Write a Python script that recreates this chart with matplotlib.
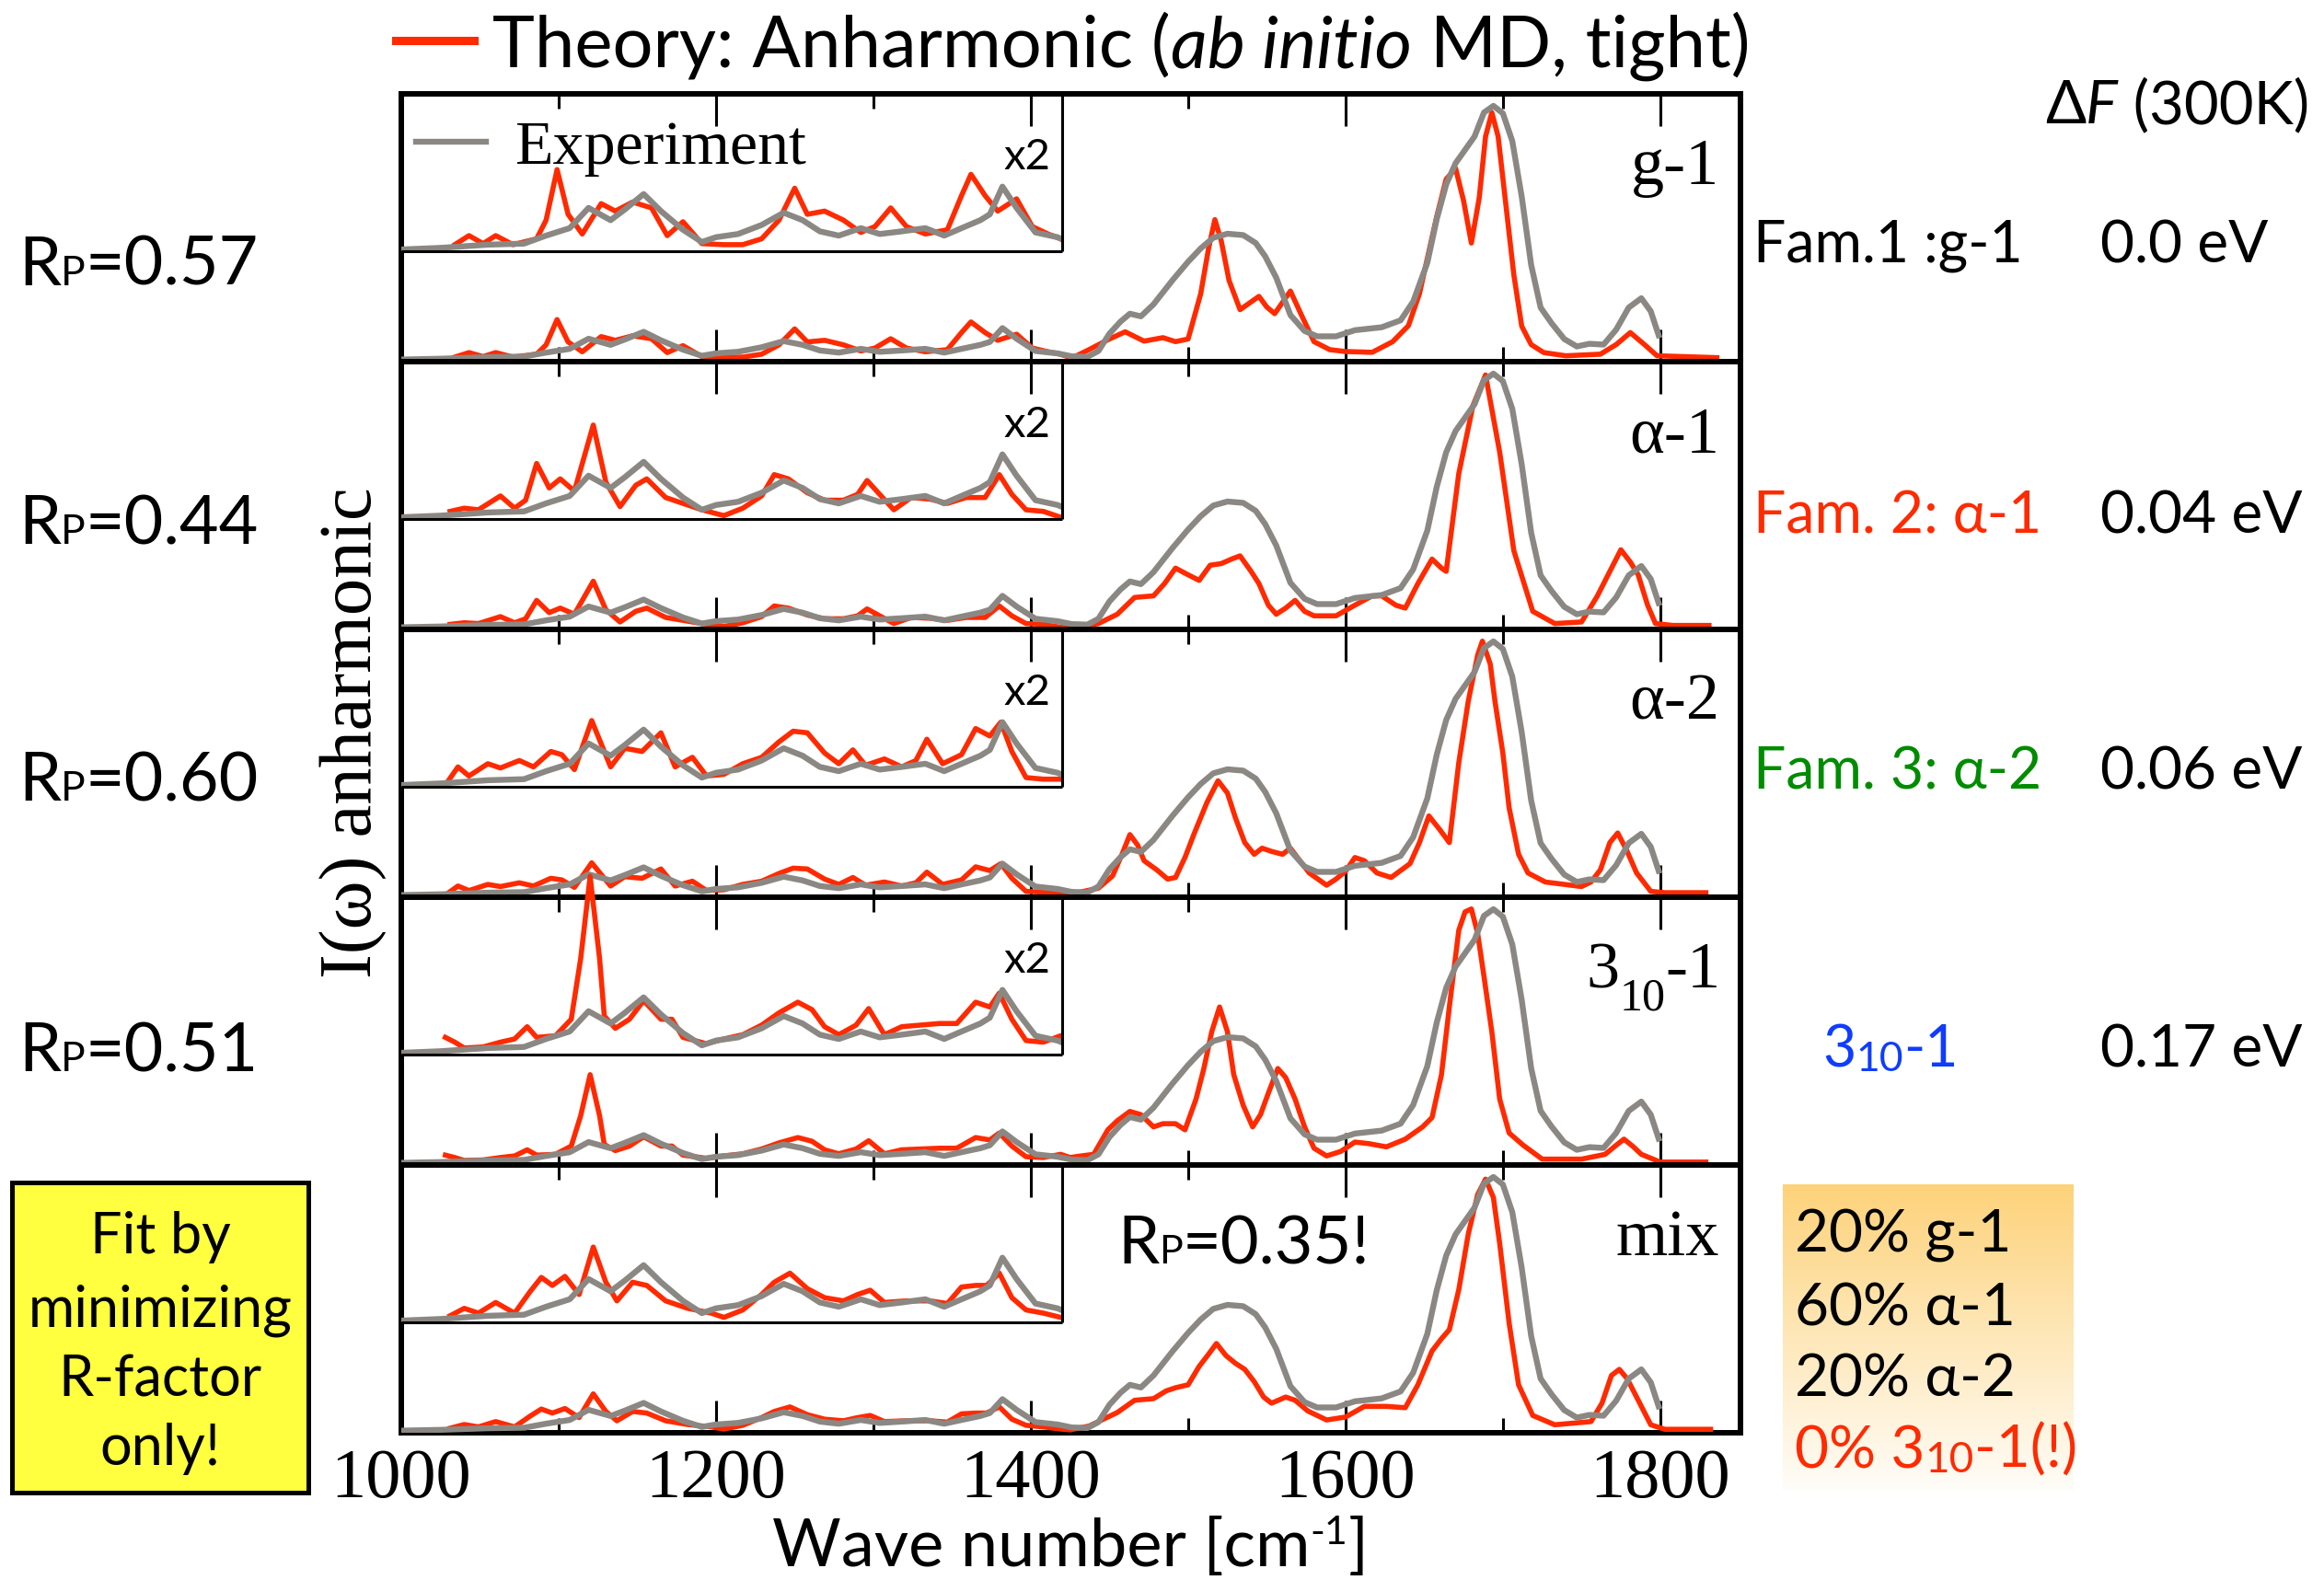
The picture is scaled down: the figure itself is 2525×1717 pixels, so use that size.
import numpy as np
import matplotlib
matplotlib.use("Agg")
import matplotlib.pyplot as plt
from matplotlib.transforms import Affine2D
from matplotlib.patches import Rectangle
from matplotlib.lines import Line2D
from matplotlib.ticker import FixedLocator
from matplotlib.colors import LinearSegmentedColormap

# ---------------------------------------------------------------- data
# Experimental IR spectrum (same in every panel), normalised intensity
exp_wn = [1000, 1025, 1055, 1078, 1092, 1107, 1119, 1133, 1142, 1154,
          1165, 1179, 1191, 1200, 1214, 1229, 1243, 1255, 1266, 1278,
          1292, 1304, 1318, 1333, 1345, 1356, 1368, 1374, 1382, 1391,
          1403, 1417, 1426, 1436, 1443, 1450, 1457, 1463, 1470, 1478,
          1490, 1500, 1508, 1516, 1525, 1535, 1543, 1549, 1556, 1565,
          1574, 1582, 1594, 1606, 1623, 1635, 1643, 1652, 1658, 1664,
          1670, 1676, 1682, 1688, 1694, 1700, 1706, 1712, 1718, 1724,
          1731, 1739, 1747, 1755, 1764, 1772, 1780, 1788, 1794, 1799]
exp_int = [0.003, 0.006, 0.012, 0.014, 0.029, 0.043, 0.081, 0.058, 0.078, 0.107,
           0.075, 0.040, 0.017, 0.026, 0.032, 0.049, 0.072, 0.058, 0.037, 0.029,
           0.043, 0.032, 0.037, 0.043, 0.029, 0.043, 0.058, 0.069, 0.121, 0.081,
           0.035, 0.026, 0.015, 0.013, 0.035, 0.10, 0.145, 0.175, 0.165, 0.21,
           0.30, 0.37, 0.42, 0.46, 0.475, 0.47, 0.44, 0.39, 0.31, 0.17,
           0.11, 0.09, 0.09, 0.113, 0.124, 0.15, 0.22, 0.366, 0.53, 0.66,
           0.74, 0.79, 0.84, 0.93, 0.955, 0.927, 0.823, 0.614, 0.358, 0.198,
           0.139, 0.08, 0.052, 0.062, 0.059, 0.115, 0.198, 0.233, 0.184, 0.094]

# Anharmonic (ab initio MD) spectra of the individual conformers and the mix
g1_wn = [1034, 1043, 1052, 1060, 1071, 1086, 1092, 1099, 1106, 1115,
         1127, 1136, 1147, 1159, 1169, 1179, 1191, 1205, 1217, 1229,
         1240, 1250, 1258, 1269, 1281, 1292, 1301, 1311, 1321, 1333,
         1347, 1356, 1362, 1371, 1379, 1391, 1401, 1411, 1419, 1426,
         1437, 1450, 1460, 1472, 1484, 1492, 1500, 1508, 1513, 1517,
         1521, 1526, 1533, 1545, 1550, 1555, 1565, 1572, 1580, 1590,
         1600, 1617, 1630, 1640, 1647, 1658, 1664, 1670, 1675, 1680,
         1685, 1689, 1693, 1697, 1702, 1707, 1712, 1718, 1726, 1740,
         1762, 1772, 1781, 1790, 1798, 1836]
g1_int = [0.012, 0.029, 0.014, 0.029, 0.012, 0.023, 0.058, 0.153, 0.069, 0.032,
          0.089, 0.075, 0.092, 0.081, 0.029, 0.055, 0.014, 0.012, 0.012, 0.023,
          0.058, 0.118, 0.069, 0.075, 0.058, 0.035, 0.046, 0.081, 0.046, 0.032,
          0.040, 0.104, 0.144, 0.104, 0.075, 0.098, 0.046, 0.032, 0.023, 0.008,
          0.04, 0.08, 0.107, 0.072, 0.085, 0.07, 0.08, 0.25, 0.42, 0.528,
          0.45, 0.30, 0.19, 0.24, 0.20, 0.175, 0.26, 0.17, 0.07, 0.04,
          0.033, 0.03, 0.07, 0.13, 0.25, 0.54, 0.68, 0.72, 0.60, 0.44,
          0.61, 0.84, 0.93, 0.84, 0.58, 0.32, 0.128, 0.059, 0.029, 0.017,
          0.023, 0.059, 0.104, 0.059, 0.017, 0.01]

a1_wn = [1031, 1040, 1049, 1063, 1072, 1079, 1086, 1094, 1101, 1110,
         1122, 1130, 1139, 1149, 1156, 1168, 1179, 1191, 1205, 1217,
         1229, 1237, 1246, 1258, 1269, 1281, 1290, 1296, 1304, 1313,
         1324, 1336, 1347, 1359, 1371, 1380, 1388, 1397, 1408, 1419,
         1430, 1443, 1455, 1466, 1478, 1485, 1492, 1500, 1507, 1514,
         1521, 1528, 1533, 1540, 1545, 1551, 1556, 1562, 1568, 1574,
         1580, 1594, 1606, 1617, 1623, 1632, 1638, 1646, 1655, 1661,
         1664, 1672, 1681, 1689, 1698, 1707, 1719, 1733, 1750, 1760,
         1768, 1775, 1781, 1786, 1792, 1797, 1808, 1831]
a1_int = [0.014, 0.020, 0.017, 0.043, 0.020, 0.035, 0.104, 0.058, 0.075, 0.052,
          0.176, 0.069, 0.023, 0.063, 0.075, 0.040, 0.029, 0.017, 0.006, 0.020,
          0.043, 0.083, 0.075, 0.049, 0.035, 0.035, 0.046, 0.072, 0.046, 0.017,
          0.040, 0.037, 0.029, 0.040, 0.040, 0.083, 0.046, 0.017, 0.014, 0.003,
          0.003, 0.017, 0.052, 0.115, 0.121, 0.167, 0.225, 0.2, 0.179, 0.236,
          0.242, 0.26, 0.271, 0.213, 0.167, 0.086, 0.052, 0.075, 0.104, 0.063,
          0.046, 0.046, 0.086, 0.121, 0.121, 0.086, 0.075, 0.167, 0.259, 0.225,
          0.213, 0.58, 0.835, 0.95, 0.66, 0.29, 0.063, 0.017, 0.023, 0.12,
          0.213, 0.294, 0.248, 0.2, 0.086, 0.017, 0.01, 0.01]

a2_wn = [1028, 1036, 1043, 1055, 1063, 1075, 1084, 1095, 1102, 1110,
         1121, 1133, 1142, 1153, 1165, 1174, 1185, 1194, 1205, 1217,
         1229, 1240, 1249, 1258, 1269, 1278, 1287, 1295, 1307, 1318,
         1327, 1334, 1344, 1356, 1365, 1374, 1381, 1388, 1397, 1408,
         1419, 1425, 1443, 1452, 1458, 1463, 1468, 1472, 1480, 1487,
         1492, 1498, 1504, 1512, 1519, 1525, 1530, 1536, 1542, 1547,
         1553, 1560, 1565, 1571, 1577, 1588, 1594, 1600, 1606, 1612,
         1620, 1629, 1641, 1647, 1653, 1660, 1666, 1672, 1678, 1684,
         1687, 1692, 1695, 1700, 1704, 1710, 1716, 1727, 1750, 1756,
         1762, 1768, 1773, 1779, 1785, 1794, 1803, 1829]
a2_int = [0.003, 0.037, 0.020, 0.043, 0.035, 0.049, 0.037, 0.066, 0.060, 0.032,
          0.124, 0.037, 0.072, 0.066, 0.101, 0.037, 0.055, 0.020, 0.023, 0.043,
          0.055, 0.084, 0.104, 0.101, 0.063, 0.043, 0.069, 0.040, 0.052, 0.037,
          0.049, 0.089, 0.043, 0.060, 0.109, 0.095, 0.121, 0.066, 0.017, 0.014,
          0.014, 0.006, 0.029, 0.075, 0.156, 0.23, 0.19, 0.132, 0.098, 0.063,
          0.069, 0.144, 0.236, 0.351, 0.432, 0.386, 0.294, 0.2, 0.156, 0.179,
          0.167, 0.156, 0.179, 0.132, 0.086, 0.04, 0.063, 0.092, 0.144, 0.132,
          0.086, 0.069, 0.121, 0.2, 0.3, 0.248, 0.2, 0.5, 0.73, 0.904,
          0.956, 0.87, 0.73, 0.536, 0.33, 0.156, 0.086, 0.052, 0.035, 0.052,
          0.098, 0.2, 0.236, 0.167, 0.086, 0.017, 0.012, 0.012]

h310_wn = [1028, 1034, 1040, 1052, 1063, 1072, 1080, 1086, 1098, 1108,
           1114, 1120, 1126, 1129, 1136, 1145, 1154, 1165, 1172, 1179,
           1194, 1205, 1217, 1229, 1240, 1252, 1261, 1269, 1278, 1289,
           1297, 1307, 1318, 1330, 1342, 1353, 1365, 1374, 1380, 1388,
           1397, 1408, 1419, 1425, 1432, 1440, 1449, 1455, 1463, 1470,
           1478, 1484, 1492, 1498, 1505, 1510, 1515, 1520, 1525, 1529,
           1535, 1541, 1546, 1551, 1557, 1562, 1568, 1574, 1580, 1588,
           1597, 1606, 1615, 1626, 1638, 1649, 1655, 1661, 1666, 1672,
           1676, 1680, 1684, 1688, 1693, 1698, 1704, 1713, 1725, 1750,
           1765, 1772, 1777, 1783, 1788, 1800, 1829]
h310_int = [0.032, 0.023, 0.012, 0.014, 0.023, 0.029, 0.052, 0.032, 0.035, 0.066,
            0.18, 0.334, 0.18, 0.072, 0.049, 0.066, 0.101, 0.066, 0.066, 0.032,
            0.020, 0.029, 0.037, 0.055, 0.078, 0.098, 0.084, 0.052, 0.037, 0.055,
            0.086, 0.037, 0.052, 0.055, 0.058, 0.058, 0.098, 0.089, 0.115, 0.066,
            0.026, 0.023, 0.035, 0.023, 0.029, 0.035, 0.127, 0.161, 0.196, 0.184,
            0.138, 0.15, 0.15, 0.127, 0.242, 0.357, 0.495, 0.588, 0.495, 0.334,
            0.219, 0.138, 0.184, 0.265, 0.357, 0.323, 0.242, 0.138, 0.058, 0.029,
            0.046, 0.081, 0.075, 0.063, 0.092, 0.138, 0.173, 0.334, 0.588, 0.876,
            0.945, 0.956, 0.864, 0.703, 0.495, 0.242, 0.115, 0.069, 0.017, 0.017,
            0.035, 0.069, 0.092, 0.063, 0.035, 0.006, 0.006]

mix_wn = [1031, 1040, 1049, 1060, 1072, 1082, 1089, 1096, 1104, 1113,
          1122, 1130, 1137, 1147, 1156, 1168, 1182, 1197, 1205, 1217,
          1229, 1237, 1247, 1258, 1269, 1281, 1290, 1298, 1307, 1321,
          1336, 1347, 1356, 1365, 1372, 1380, 1388, 1397, 1408, 1419,
          1425, 1437, 1455, 1466, 1478, 1486, 1492, 1500, 1507, 1513,
          1518, 1524, 1530, 1536, 1542, 1548, 1553, 1562, 1568, 1576,
          1588, 1600, 1612, 1626, 1638, 1646, 1655, 1661, 1666, 1672,
          1678, 1684, 1689, 1694, 1698, 1704, 1710, 1719, 1733, 1756,
          1763, 1769, 1774, 1779, 1785, 1794, 1803, 1832]
mix_int = [0.012, 0.026, 0.017, 0.037, 0.017, 0.058, 0.084, 0.069, 0.086, 0.052,
           0.141, 0.075, 0.040, 0.075, 0.069, 0.040, 0.026, 0.017, 0.009, 0.023,
           0.052, 0.075, 0.092, 0.063, 0.046, 0.040, 0.052, 0.060, 0.037, 0.040,
           0.040, 0.035, 0.066, 0.069, 0.069, 0.092, 0.046, 0.023, 0.017, 0.009,
           0.006, 0.02, 0.071, 0.117, 0.123, 0.152, 0.164, 0.175, 0.244, 0.29,
           0.33, 0.285, 0.256, 0.233, 0.187, 0.129, 0.106, 0.129, 0.117, 0.077,
           0.043, 0.054, 0.094, 0.094, 0.089, 0.175, 0.302, 0.348, 0.382, 0.532,
           0.74, 0.889, 0.947, 0.878, 0.705, 0.406, 0.175, 0.06, 0.025, 0.037,
           0.106, 0.21, 0.233, 0.198, 0.129, 0.025, 0.008, 0.008]

panel_labels = ["g-1", "α-1", "α-2", "3_10-1", "mix"]
rp_values = ["0.57", "0.44", "0.60", "0.51"]
rp_mix = "0.35"
family_labels = ["Fam.1 :g-1", "Fam. 2: α-1", "Fam. 3: α-2"]
free_energy = ["0.0 eV", "0.04 eV", "0.06 eV", "0.17 eV"]
mix_lines = ["20% g-1", "60% α-1", "20% α-2"]
note_lines = ["Fit by", "minimizing", "R-factor", "only!"]
tick_values = [1000, 1200, 1400, 1600, 1800]
minor_values = [1100, 1300, 1500, 1700]

# ---------------------------------------------------------------- style
RED = "#ff2a00"
GRAY = "#8b8884"
GREEN = "#008c00"
BLUE = "#0f3cff"
SERIF = ["Liberation Serif", "DejaVu Serif"]
SANS = ["Lato", "DejaVu Sans"]

W, H = 2525, 1717
fig = plt.figure(figsize=(W / 100, H / 100), dpi=100)
renderer = fig.canvas.get_renderer()

AX_L, AX_R = 436, 1891          # frame, pixels
TOP = 102                       # top of first panel, pixels
PH = 291                        # panel height, pixels
XMIN, XMAX = 1000, 1851
YMIN, YMAX = -0.005, 1.0
INSET_BASE = 0.41               # baseline of the x2 zoom box (data units)
INSET_END = 1420                # right edge of the x2 zoom box


def fx(px):
    return px / W


def fy(py):
    return 1 - py / H


def runs_text(x, y, runs, ha="left", family=SANS, color="black"):
    """Place text runs side by side on one baseline; x, y in pixels from top-left."""
    items, total = [], 0.0
    for run in runs:
        s, size = run[0], run[1]
        dy = run[2] if len(run) > 2 else 0
        kw = dict(run[3]) if len(run) > 3 else {}
        kw.setdefault("color", color)
        kw.setdefault("family", family)
        t = fig.text(0, 0, s, fontsize=size, va="baseline", ha="left", **kw)
        w = t.get_window_extent(renderer).width
        items.append((t, w, dy))
        total += w
    x0 = x - {"left": 0, "center": total / 2, "right": total}[ha]
    for t, w, dy in items:
        t.set_position((fx(x0), fy(y + dy)))
        x0 += w


series = [(g1_wn, g1_int), (a1_wn, a1_int), (a2_wn, a2_int),
          (h310_wn, h310_int), (mix_wn, mix_int)]

axes = []
for i, (wn, inten) in enumerate(series):
    ax = fig.add_axes([fx(AX_L), fy(TOP + PH * (i + 1)), fx(AX_R - AX_L), PH / H])
    axes.append(ax)
    ax.set_xlim(XMIN, XMAX)
    ax.set_ylim(YMIN, YMAX)

    # full spectra
    ax.plot(wn, inten, color=RED, lw=4.0, solid_joinstyle="round", zorder=3)
    exp_line, = ax.plot(exp_wn, exp_int, color=GRAY, lw=4.6,
                        solid_joinstyle="round", zorder=4)

    # x2 magnified view of the 1000-1420 region
    zoom_tr = Affine2D().scale(1, 2).translate(0, INSET_BASE) + ax.transData
    clip = Rectangle((XMIN, INSET_BASE), INSET_END - XMIN, 2.0,
                     transform=ax.transData)
    for xs, ys, c, lw, z in [(wn, inten, RED, 4.0, 3), (exp_wn, exp_int, GRAY, 4.6, 4)]:
        ln, = ax.plot(xs, ys, color=c, lw=lw, solid_joinstyle="round",
                      transform=zoom_tr, zorder=z)
        ln.set_clip_path(clip)
    ax.hlines(INSET_BASE, XMIN, INSET_END, color="black", lw=2.2, zorder=5)
    ax.vlines(INSET_END, INSET_BASE, YMAX, color="black", lw=2.2, zorder=5)

    # frame and ticks
    for sp in ax.spines.values():
        sp.set_linewidth(4.3)
    ax.set_yticks([])
    ax.xaxis.set_major_locator(FixedLocator(tick_values))
    ax.xaxis.set_minor_locator(FixedLocator(minor_values))
    ax.tick_params(axis="x", which="both", direction="in", top=True, bottom=True,
                   width=2.2, color="black")
    ax.tick_params(axis="x", which="major", length=25, pad=12)
    ax.tick_params(axis="x", which="minor", length=11.5)
    if i < len(series) - 1:
        ax.tick_params(axis="x", labelbottom=False)
    else:
        ax.set_xticklabels([str(v) for v in tick_values])
        for lab in ax.get_xticklabels():
            lab.set_fontfamily(SERIF)
            lab.set_fontsize(55)

    # panel name
    top_px = TOP + PH * i
    name = panel_labels[i]
    if name == "3_10-1":
        runs_text(1870, top_px + 98, [("3", 52), ("10", 36, 24), ("-1", 52)],
                  ha="right", family=SERIF)
    else:
        fig.text(fx(1868), fy(top_px + 98), name, fontsize=52, family=SERIF,
                 ha="right", va="baseline")
    if name != "mix":
        fig.text(fx(1141), fy(top_px + 82), "x2", fontsize=34, family=SANS,
                 ha="right", va="baseline")

    if i == 0:
        ax.legend([exp_line], ["Experiment"], loc="upper left",
                  bbox_to_anchor=((452 - AX_L) / (AX_R - AX_L), (PH - 28) / PH),
                  frameon=False, borderpad=0, borderaxespad=0,
                  handlelength=1.12, handletextpad=0.45,
                  prop=dict(family=SERIF, size=49))

# y label
fig.text(fx(384), fy(796), "I(ω) anharmonic", rotation=90, fontsize=58,
         family=SERIF, ha="center", va="center")

# x label
runs_text(1163, 1702, [("Wave number [cm", 52), ("-1", 31, -24), ("]", 52)],
          ha="center")

# title with theory key
fig.add_artist(Line2D([fx(430), fx(515)], [fy(44), fy(44)], color=RED, lw=6.5,
                      transform=fig.transFigure))
runs_text(535, 73, [("Theory: Anharmonic (", 56),
                    ("ab initio", 56, 0, {"style": "italic"}),
                    (" MD, tight)", 56)])

# R-factor of each single-conformer fit
for val, base in zip(rp_values, [310, 591, 870, 1164]):
    runs_text(20, base, [("R", 53), ("P", 32), ("=" + val, 53)])
runs_text(1214, 1373, [("R", 52), ("P", 31), ("=" + rp_mix + "!", 52)])

# free-energy column
runs_text(2222, 134, [("Δ", 47), ("F", 47, 0, {"style": "italic"}), (" (300K)", 47)])
for lab, col, base in zip(family_labels, ["black", RED, GREEN], [285, 580, 857]):
    fig.text(fx(1905), fy(base), lab, fontsize=45, family=SANS, color=col,
             ha="left", va="baseline")
runs_text(1980, 1159, [("3", 45), ("10", 32, 5), ("-1", 45)], color=BLUE)
for val, base in zip(free_energy, [285, 580, 857, 1159]):
    fig.text(fx(2282), fy(base), val, fontsize=46, family=SANS,
             ha="left", va="baseline")

# composition of the best-fit mix on an orange gradient
gax = fig.add_axes([fx(1937), fy(1620), fx(2253 - 1937), (1620 - 1287) / H])
gax.imshow(np.linspace(0, 1, 256)[:, None], aspect="auto",
           cmap=LinearSegmentedColormap.from_list("fade", ["#fdd27a", "#fffdf9"]))
gax.axis("off")
for lab, base in zip(mix_lines, [1360, 1440, 1517]):
    fig.text(fx(1950), fy(base), lab, fontsize=46, family=SANS,
             ha="left", va="baseline")
runs_text(1950, 1595, [("0% 3", 46), ("10", 33, 5), ("-1(!)", 46)], color=RED)

# yellow note
fig.add_artist(Rectangle((fx(13), fy(1622)), fx(322), 337 / H,
                         transform=fig.transFigure, facecolor="#ffff40",
                         edgecolor="black", lw=3.6))
for lab, base in zip(note_lines, [1362, 1441, 1517, 1592]):
    fig.text(fx(174), fy(base), lab, fontsize=44, family=SANS,
             ha="center", va="baseline")

fig.savefig("out.png", dpi=100)
